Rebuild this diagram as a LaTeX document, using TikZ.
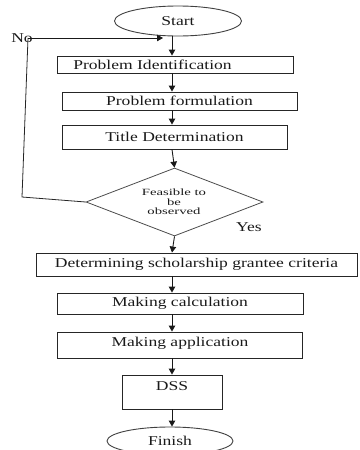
\documentclass[tikz,border=0pt]{standalone}
\usepackage{fontspec}
\setmainfont{Liberation Serif}[FakeStretch=1.3]
\newfontfamily\diafont{Liberation Serif}[FakeStretch=1.55]
\usetikzlibrary{shapes.geometric,arrows.meta}
\begin{document}
\begin{tikzpicture}[x=1pt,y=-1pt,
  every node/.style={font=\fontsize{13.5}{15}\selectfont, text=black!90},
  box/.style={draw=black!85, line width=0.9pt, rectangle, inner sep=0pt},
  term/.style={draw=black!75, line width=0.9pt, ellipse, inner sep=0pt},
  dec/.style={draw=black!70, line width=0.8pt, diamond, inner sep=0pt, minimum width=177, minimum height=68, aspect=2.6},
  arr/.style={draw=black!90, line width=0.9pt, -{Triangle[length=6pt,width=6.5pt]}},
  ln/.style={draw=black!85, line width=0.8pt}]
\useasboundingbox (0,0) rectangle (359,450);
\coordinate (col) at (172,0);
\node[term, minimum width=127, minimum height=30] (start) at (178,21) {Start};
\node[box, minimum width=236, minimum height=17] (pi) at (175,64.5) {};
\node (pit) at (152.5,64.5) {Problem Identification};
\node[box, minimum width=235, minimum height=18] (pf) at (179.5,101) {Problem formulation};
\node[box, minimum width=225, minimum height=24] (td) at (174.5,137) {Title Determination};
\node[dec] (fe) at (174.5,202) {};
\node[font=\diafont\fontsize{9.5}{9.7}\selectfont, align=center] (fet) at (174,202) {Feasible to\\be\\observed};
\node[box, minimum width=321, minimum height=23] (dg) at (196.5,264.5) {Determining scholarship grantee criteria};
\node[box, minimum width=246, minimum height=21] (mc) at (180,303.5) {Making calculation};
\node[box, minimum width=245, minimum height=26] (ma) at (179.5,345) {};
\node (mat) at (180,343) {Making application};
\node[box, minimum width=100, minimum height=34] (dss) at (172,392) {};
\node (dsst) at (172,386) {DSS};
\node[term, minimum width=126, minimum height=28] (fin) at (170,441) {Finish};
\node (no) at (22,38) {No};
\node (yes) at (249,227) {Yes};
\coordinate (c1) at (28,38);
\coordinate (c2) at (22,197);
\coordinate (c3) at (163,38);
\draw[arr] (start.south -| col) -- (pi.north -| col);
\draw[arr] (pi.south -| col) -- (pf.north -| col);
\draw[arr] (pf.south -| col) -- (td.north -| col);
\draw[arr] (td.south -| col) -- (fe.north);
\draw[arr] (fe.south) -- (dg.north -| col);
\draw[arr] (dg.south -| col) -- (mc.north -| col);
\draw[arr] (mc.south -| col) -- (ma.north -| col);
\draw[arr] (ma.south -| col) -- (dss.north -| col);
\draw[arr] (dss.south -| col) -- (fin.north -| col);
\draw[ln] (fe.west) -- (c2) -- (c1);
\draw[arr] (c1) -- (c3);
\end{tikzpicture}
\end{document}
